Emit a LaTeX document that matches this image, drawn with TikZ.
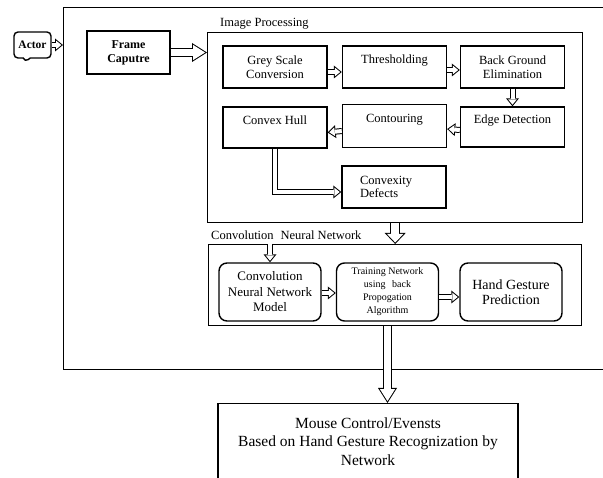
\documentclass[tikz,border=0pt]{standalone}
\usepackage{fontspec}
\setmainfont{Liberation Serif}
\usetikzlibrary{arrows.meta}
\usetikzlibrary{shapes.callouts}

\begin{document}
\begin{tikzpicture}[x=1pt,y=-1pt,
	box/.style={draw,line width=1.4pt,minimum width=104,minimum height=42,align=center,inner sep=2pt,font=\fontsize{12.5}{13.5}\selectfont},
	rbox/.style={box,rounded corners=8pt,minimum width=102,minimum height=58},
	frame box/.style={draw,line width=1.4pt},
	lab/.style={inner sep=1pt,font=\fontsize{12.5}{14}\selectfont},
	smallarrow/.style={draw,line width=6pt,-{Triangle[length=8pt,width=13pt,line width=0pt]},
		postaction={draw,white,line width=4pt,shorten >=1.6pt,-{Triangle[length=5.4pt,width=8.8pt,line width=0pt]}}},
	midarrow/.style={draw,line width=10pt,-{Triangle[length=11pt,width=21pt,line width=0pt]},
		postaction={draw,white,line width=8pt,shorten >=1.5pt,-{Triangle[length=8.5pt,width=16.3pt,line width=0pt]}}},
	bigarrow/.style={draw,line width=9pt,-{Triangle[length=15pt,width=19pt,line width=0pt]},
		postaction={draw,white,line width=7pt,shorten >=1.9pt,-{Triangle[length=12pt,width=15.2pt,line width=0pt]}}}]
	\useasboundingbox (0,0) rectangle (603,478);
	\clip (0,0) rectangle (603,478);
	\node[frame box,minimum width=600,minimum height=362,anchor=north west] (outer) at (63,7) {};
	\node[frame box,rectangle callout,rounded corners=4pt,callout absolute pointer={(25,62)},minimum width=37,minimum height=26,inner sep=1pt,font=\bfseries\fontsize{11.5}{13}\selectfont] (actor) at (32.5,45) {Actor};
	\node[box,font=\bfseries\fontsize{12}{14}\selectfont,minimum width=83,minimum height=43] (frame) at (128.5,52.5) {Frame\\Caputre};
	\node[frame box,minimum width=375,minimum height=190,anchor=north west] (ip) at (207,32) {};
	\node[lab,anchor=south west] (iplab) at ([xshift=12pt,yshift=2pt]ip.north west) {Image Processing};
	\node[box] (grey) at (275,67) {Grey Scale\\Conversion};
	\node[box] (thresh) at (394.5,67) {Thresholding\\[3pt]~};
	\node[box] (bge) at (512.5,67) {Back Ground\\Elimination};
	\node[box,minimum height=40] (edge) at (512.5,127) {Edge Detection\\[2pt]~};
	\node[box,minimum height=43] (contour) at (394.5,126) {Contouring\\[2pt]~};
	\node[box,minimum height=41] (hull) at (275,127.5) {Convex Hull\\[2pt]~};
	\node[box,align=left,text width=68] (defects) at (394,187) {Convexity\\Defects};
	\node[frame box,minimum width=373,minimum height=81,anchor=north west] (cnn) at (208,244) {};
	\node[lab,anchor=south west] (cnnlab) at ([xshift=2pt,yshift=3pt]cnn.north west) {Convolution\hspace{0.3em} Neural Network};
	\node[rbox,font=\fontsize{13}{15.5}\selectfont] (model) at (270,292) {Convolution\\Neural Network\\Model};
	\node[rbox,font=\fontsize{10}{13}\selectfont] (train) at (387.5,292) {Training Network\\using\hspace{0.4em} back\\Propogation\\Algorithm};
	\node[rbox,font=\fontsize{14}{15.5}\selectfont] (hand) at (511,292) {Hand Gesture\\Prediction};
	\node[box,minimum width=300,minimum height=75,anchor=north,font=\fontsize{15.5}{18.5}\selectfont] (mouse) at (368,403) {Mouse Control/Evensts\\Based on Hand Gesture Recognization by\\Network};
	\draw[smallarrow] (actor.east) -- (actor.east -| outer.west);
	\draw[bigarrow] (frame.east) -- (frame.east -| ip.west);
	\draw[smallarrow] ([yshift=-5pt]grey.east) -- ([yshift=-5pt]thresh.west);
	\draw[smallarrow] ([yshift=-3pt]thresh.east) -- ([yshift=-3pt]bge.west);
	\draw[smallarrow] (bge) -- (edge);
	\draw[smallarrow] ([yshift=-3pt]edge.west) -- ([yshift=-3pt]contour.east);
	\draw[smallarrow] ([yshift=-5pt]contour.west) -- ([yshift=-5pt]hull.east);
	\draw[smallarrow] (hull.south) |- ([yshift=-5pt]defects.west);
	\draw[midarrow] (ip.south) -- (ip.south |- cnn.north);
	\draw[smallarrow] (model.north |- cnn.north) -- (model.north);
	\draw[smallarrow] ([yshift=-1pt]model.east) -- ([yshift=-1pt]train.west);
	\draw[smallarrow] ([yshift=-5pt]train.east) -- ([yshift=-5pt]hand.west);
	\draw[bigarrow] (train.south |- cnn.south) -- (mouse.north -| train.south);
\end{tikzpicture}
\end{document}
